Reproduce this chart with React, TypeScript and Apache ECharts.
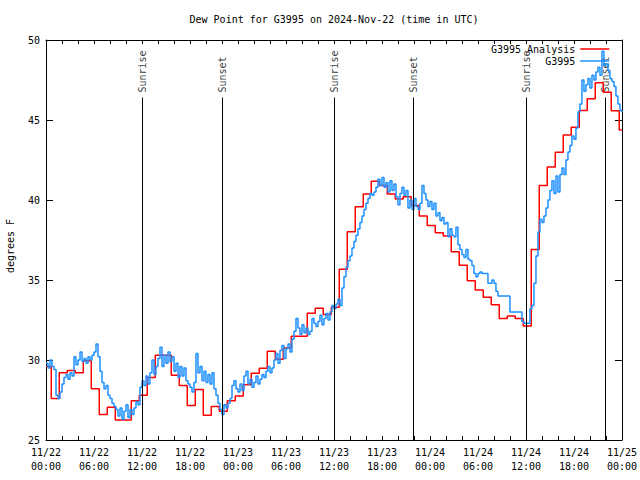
import React, { useEffect, useRef } from 'react';
import * as echarts from 'echarts';

const FONT = '"DejaVu Sans Mono", monospace';

const titleText = 'Dew Point for G3995 on 2024-Nov-22 (time in UTC)';
const yAxisTitle = 'degrees F';

const xTickLabels = [
  '11/22\n00:00', '11/22\n06:00', '11/22\n12:00', '11/22\n18:00',
  '11/23\n00:00', '11/23\n06:00', '11/23\n12:00', '11/23\n18:00',
  '11/24\n00:00', '11/24\n06:00', '11/24\n12:00', '11/24\n18:00',
  '11/25\n00:00',
];

// hourly analysis values; first holds from 00:00, then each from (k-1)+firstStep hours
const analysisFirstStep = 0.66;
const analysisValues = [
  29.6, 27.6, 29.2, 29.35, 29.2, 29.95, 28.2, 26.6, 27.05, 26.25, 26.25, 27.45,
  27.8, 28.9, 30.3, 30.3, 29.05, 28.4, 27.15, 28.15, 26.55, 27.1, 26.8, 27.45,
  27.75, 28.45, 29.17, 29.48, 30.55, 30.04, 30.75, 31.48, 31.48, 32.92, 33.23, 32.85,
  33.3, 35.67, 38.02, 39.58, 40.38, 41.17, 40.9, 40.38, 40.06, 40.21, 39.65, 39.0,
  38.4, 37.96, 37.75, 36.77, 35.92, 34.96, 34.38, 33.92, 33.46, 32.6, 32.75, 32.6,
  32.13, 36.9, 40.9, 42.06, 42.98, 44.06, 44.54, 45.6, 46.33, 47.33, 46.73, 45.58,
  44.38,
];

// station observations every 15 minutes from 11/22 00:00
const obsStepHours = 0.25;
const obsValues = [
  29.8, 29.5, 30.0, 29.6, 29.4, 27.8, 27.6, 28.0, 28.5, 28.9, 29.1, 28.8,
  29.2, 29.0, 30.2, 29.7, 30.0, 30.5, 29.9, 30.1, 29.8, 30.2, 30.0, 30.3,
  30.5, 31.0, 30.2, 29.3, 28.6, 28.2, 28.4, 27.8, 27.6, 27.3, 27.1, 26.9,
  26.5, 27.0, 26.3, 26.8, 27.2, 26.4, 26.9, 26.6, 27.0, 27.4, 27.2, 28.3,
  28.7, 28.4, 29.0, 28.5, 29.2, 30.0, 29.1, 29.6, 30.1, 30.8, 29.6, 30.3,
  29.8, 30.5, 29.9, 30.2, 29.3, 29.8, 28.9, 29.6, 29.0, 29.5, 28.7, 28.5,
  28.3, 28.0, 28.6, 30.4, 29.2, 29.6, 28.7, 29.3, 28.6, 29.1, 28.5, 29.2,
  28.2, 27.8, 27.3, 26.9, 26.6, 27.2, 27.0, 27.3, 27.6, 28.4, 28.7, 28.2,
  28.0, 28.5, 28.1, 29.0, 29.3, 28.5, 28.8, 28.3, 28.6, 29.0, 28.5, 28.8,
  29.1, 28.9, 29.3, 29.6, 29.2, 29.5, 30.0, 30.4, 29.8, 30.6, 30.9, 30.1,
  30.7, 31.0, 30.5, 31.3, 31.8, 32.6, 32.0, 31.6, 32.2, 31.7, 32.0, 31.6,
  31.8, 32.6, 32.3, 32.1, 32.4, 32.8, 32.2, 32.6, 32.9, 32.5, 33.0, 33.4,
  33.2, 33.5, 33.8, 33.4, 34.5, 35.2, 35.8, 36.2, 36.5, 37.0, 37.4, 37.8,
  38.2, 38.6, 39.0, 39.4, 39.8, 40.1, 40.4, 40.3, 40.5, 40.8, 41.3, 40.9,
  41.4, 40.8, 41.1, 40.5, 41.2, 40.6, 41.0, 40.2, 39.7, 40.4, 40.8, 40.3,
  40.6, 39.5, 40.0, 39.4, 40.1, 39.6, 39.4, 39.8, 40.9, 40.4, 40.0, 39.6,
  39.9, 39.4, 39.8, 39.0, 39.2, 38.7, 38.9, 38.5, 38.6, 37.7, 38.2, 37.8,
  37.7, 38.3, 37.2, 36.9, 36.6, 36.4, 36.9, 36.3, 36.2, 35.9, 35.4, 35.2,
  35.4, 35.5, 35.4, 35.4, 35.4, 34.8, 34.8, 35.0, 34.8, 34.3, 34.0, 34.0,
  34.0, 34.0, 34.0, 34.0, 33.0, 33.0, 33.0, 33.0, 33.0, 33.0, 32.4, 32.3,
  32.3, 32.3, 33.2, 33.4, 34.8, 36.5, 38.0, 38.8, 38.6, 39.0, 39.5, 40.0,
  40.6, 41.2, 40.4, 41.5, 40.5, 41.6, 42.0, 41.6, 42.5, 43.0, 43.4, 44.0,
  43.8, 44.5, 45.5, 46.0, 47.5, 46.8, 47.2, 47.6, 47.0, 47.8, 47.5, 48.0,
  48.3, 47.8, 49.3, 48.4, 48.5, 48.1, 47.6, 47.4, 47.1, 46.5, 46.0, 45.6,
  45.5,
];

const sunTimes = [12.03, 22.03, 36.03, 45.9, 60.05, 69.92];
const sunNames = ['Sunrise', 'Sunset', 'Sunrise', 'Sunset', 'Sunrise', 'Sunset'];
const sunLineTop = 46.4;

const X_MIN = 0;
const X_MAX = 72;
const Y_MIN = 25;
const Y_MAX = 50;

export default function App() {
  const ref = useRef<HTMLDivElement>(null);

  useEffect(() => {
    if (!ref.current) return;
    const chart = echarts.init(ref.current, null, { renderer: 'svg' });

    const analysisData: number[][] = [[0, analysisValues[0]]];
    for (let k = 1; k < analysisValues.length; k++) {
      analysisData.push([k - 1 + analysisFirstStep, analysisValues[k]]);
    }
    analysisData.push([X_MAX, analysisValues[analysisValues.length - 1]]);

    const obsData = obsValues.map((v, i) => [i * obsStepHours, v]);

    const black = '#000000';
    const xAxisBase = {
      type: 'value',
      min: X_MIN,
      max: X_MAX,
      interval: 6,
      splitLine: { show: false },
      axisLine: { show: true, onZero: false, lineStyle: { color: black, width: 1 } },
      axisTick: { show: true, inside: true, length: 4, lineStyle: { color: black } },
      minorTick: { show: true, splitNumber: 3, length: 4, lineStyle: { color: black } },
      minorSplitLine: { show: false },
    };
    const yAxisBase = {
      type: 'value',
      min: Y_MIN,
      max: Y_MAX,
      interval: 5,
      splitLine: { show: false },
      axisLine: { show: true, onZero: false, lineStyle: { color: black, width: 1 } },
      axisTick: { show: true, inside: true, length: 7, lineStyle: { color: black } },
    };

    chart.setOption({
      animation: false,
      backgroundColor: '#ffffff',
      textStyle: { fontFamily: FONT },
      grid: { left: 46, right: 18, top: 40, bottom: 40, containLabel: false },
      graphic: [
        {
          type: 'text',
          x: 334,
          y: 19,
          style: {
            text: titleText,
            fill: black,
            font: `10px ${FONT}`,
            textAlign: 'center',
            textVerticalAlign: 'middle',
          },
        },
        {
          type: 'text',
          x: 10,
          y: 246,
          rotation: Math.PI / 2,
          style: {
            text: yAxisTitle,
            fill: black,
            font: `10px ${FONT}`,
            textAlign: 'center',
            textVerticalAlign: 'middle',
          },
        },
      ],
      legend: {
        data: ['G3995 Analysis', 'G3995'],
        orient: 'vertical',
        align: 'right',
        right: 30,
        top: 44,
        itemWidth: 29,
        itemHeight: 12,
        itemGap: 2,
        padding: 0,
        selectedMode: false,
        itemStyle: { opacity: 0, borderWidth: 0 },
        lineStyle: { width: 1.5 },
        textStyle: { fontFamily: FONT, fontSize: 10, color: black },
      },
      xAxis: [
        {
          ...xAxisBase,
          position: 'bottom',
          axisLabel: {
            formatter: (v: number) => xTickLabels[Math.round(v / 6)] ?? '',
            fontFamily: FONT,
            fontSize: 10,
            lineHeight: 14,
            color: black,
            margin: 5,
            showMinLabel: true,
            showMaxLabel: true,
          },
        },
        {
          ...xAxisBase,
          position: 'top',
          axisLabel: { show: false },
        },
      ],
      yAxis: [
        {
          ...yAxisBase,
          position: 'left',
          axisLabel: {
            fontFamily: FONT,
            fontSize: 10,
            color: black,
            margin: 6,
          },
        },
        {
          ...yAxisBase,
          position: 'right',
          axisLabel: { show: false },
        },
      ],
      series: [
        {
          name: 'sun',
          type: 'scatter',
          xAxisIndex: 0,
          yAxisIndex: 0,
          symbolSize: 0,
          silent: true,
          z: 1,
          itemStyle: { color: 'transparent' },
          label: {
            show: true,
            position: 'top',
            distance: 5,
            rotate: 90,
            align: 'left',
            verticalAlign: 'middle',
            formatter: '{b}',
            fontFamily: FONT,
            fontSize: 10,
            color: black,
          },
          data: sunTimes.map((t, i) => ({ name: sunNames[i], value: [t, sunLineTop] })),
          markLine: {
            silent: true,
            symbol: ['none', 'none'],
            label: { show: false },
            lineStyle: { color: black, width: 1, type: 'solid' },
            data: sunTimes.map((t) => [{ coord: [t, Y_MIN] }, { coord: [t, sunLineTop] }]),
          },
        },
        {
          name: 'G3995 Analysis',
          type: 'line',
          step: 'end',
          xAxisIndex: 0,
          yAxisIndex: 0,
          symbol: 'none',
          showSymbol: false,
          z: 2,
          color: '#ff0000',
          lineStyle: { color: '#ff0000', width: 1.5 },
          data: analysisData,
        },
        {
          name: 'G3995',
          type: 'line',
          step: 'end',
          xAxisIndex: 0,
          yAxisIndex: 0,
          symbol: 'none',
          showSymbol: false,
          z: 3,
          color: '#1e90ff',
          lineStyle: { color: '#1e90ff', width: 1.5 },
          data: obsData,
        },
      ],
    });

    return () => {
      chart.dispose();
    };
  }, []);

  return (
    <div
      ref={ref}
      style={{ position: 'fixed', left: 0, top: 0, width: 640, height: 480, background: '#fff' }}
    />
  );
}
